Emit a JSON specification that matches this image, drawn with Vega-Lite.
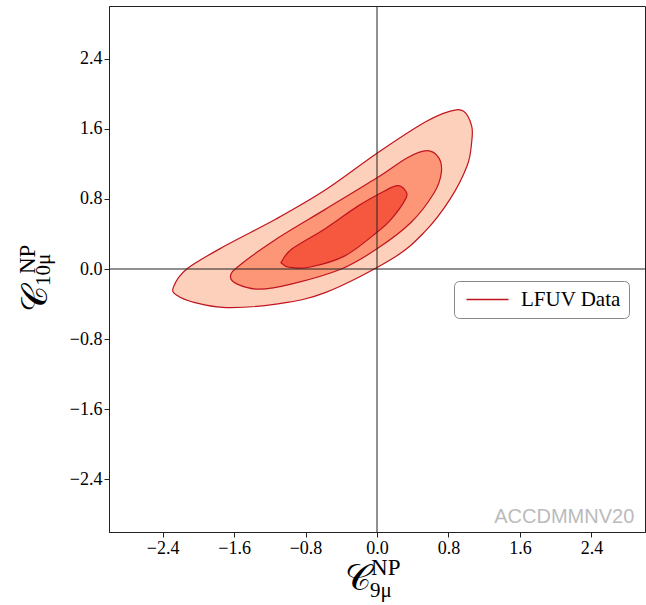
{
  "$schema": "https://vega.github.io/schema/vega-lite/v6.json",
  "width": 536,
  "height": 526,
  "autosize": {"type": "none"},
  "padding": {"left": 109, "top": 6, "right": 1, "bottom": 73},
  "background": "white",
  "config": {
    "view": {"stroke": "#222", "strokeWidth": 1},
    "axis": {
      "grid": false,
      "domainColor": "#222",
      "tickColor": "#222",
      "tickSize": 5,
      "labelFont": "Liberation Serif",
      "labelFontSize": 18,
      "labelColor": "black",
      "labelPadding": 2,
      "format": ".1f",
      "title": null
    },
    "legend": {
      "orient": "none",
      "legendX": 345,
      "legendY": 275,
      "title": null,
      "symbolType": "M-3,0H3",
      "symbolSize": 196,
      "symbolStrokeWidth": 1.5,
      "symbolOffset": 15,
      "labelFont": "Liberation Serif",
      "labelFontSize": 21,
      "labelColor": "black",
      "labelOffset": 23,
      "labelLimit": 0,
      "padding": 8,
      "strokeColor": "#888",
      "fillColor": "white",
      "cornerRadius": 5
    }
  },
  "datasets": {
    "contours": [
      {"level": 1, "i": 0, "c9": -2.28, "c10": -0.21, "set": "LFUV Data"},
      {"level": 1, "i": 1, "c9": -2.13, "c10": 0.0, "set": "LFUV Data"},
      {"level": 1, "i": 2, "c9": -1.69, "c10": 0.27, "set": "LFUV Data"},
      {"level": 1, "i": 3, "c9": -1.13, "c10": 0.57, "set": "LFUV Data"},
      {"level": 1, "i": 4, "c9": -0.58, "c10": 0.90, "set": "LFUV Data"},
      {"level": 1, "i": 5, "c9": 0.0, "c10": 1.32, "set": "LFUV Data"},
      {"level": 1, "i": 6, "c9": 0.53, "c10": 1.67, "set": "LFUV Data"},
      {"level": 1, "i": 7, "c9": 0.82, "c10": 1.80, "set": "LFUV Data"},
      {"level": 1, "i": 8, "c9": 0.97, "c10": 1.80, "set": "LFUV Data"},
      {"level": 1, "i": 9, "c9": 1.06, "c10": 1.63, "set": "LFUV Data"},
      {"level": 1, "i": 10, "c9": 1.06, "c10": 1.45, "set": "LFUV Data"},
      {"level": 1, "i": 11, "c9": 1.01, "c10": 1.18, "set": "LFUV Data"},
      {"level": 1, "i": 12, "c9": 0.82, "c10": 0.80, "set": "LFUV Data"},
      {"level": 1, "i": 13, "c9": 0.53, "c10": 0.42, "set": "LFUV Data"},
      {"level": 1, "i": 14, "c9": 0.16, "c10": 0.11, "set": "LFUV Data"},
      {"level": 1, "i": 15, "c9": -0.58, "c10": -0.27, "set": "LFUV Data"},
      {"level": 1, "i": 16, "c9": -1.13, "c10": -0.40, "set": "LFUV Data"},
      {"level": 1, "i": 17, "c9": -1.69, "c10": -0.44, "set": "LFUV Data"},
      {"level": 1, "i": 18, "c9": -2.05, "c10": -0.38, "set": "LFUV Data"},
      {"level": 1, "i": 19, "c9": -2.24, "c10": -0.30, "set": "LFUV Data"},

      {"level": 2, "i": 0, "c9": -1.64, "c10": -0.08, "set": "LFUV Data"},
      {"level": 2, "i": 1, "c9": -1.54, "c10": 0.04, "set": "LFUV Data"},
      {"level": 2, "i": 2, "c9": -1.13, "c10": 0.34, "set": "LFUV Data"},
      {"level": 2, "i": 3, "c9": -0.58, "c10": 0.68, "set": "LFUV Data"},
      {"level": 2, "i": 4, "c9": 0.0, "c10": 1.04, "set": "LFUV Data"},
      {"level": 2, "i": 5, "c9": 0.34, "c10": 1.27, "set": "LFUV Data"},
      {"level": 2, "i": 6, "c9": 0.56, "c10": 1.35, "set": "LFUV Data"},
      {"level": 2, "i": 7, "c9": 0.69, "c10": 1.27, "set": "LFUV Data"},
      {"level": 2, "i": 8, "c9": 0.72, "c10": 1.10, "set": "LFUV Data"},
      {"level": 2, "i": 9, "c9": 0.64, "c10": 0.87, "set": "LFUV Data"},
      {"level": 2, "i": 10, "c9": 0.38, "c10": 0.53, "set": "LFUV Data"},
      {"level": 2, "i": 11, "c9": 0.0, "c10": 0.23, "set": "LFUV Data"},
      {"level": 2, "i": 12, "c9": -0.40, "c10": 0.0, "set": "LFUV Data"},
      {"level": 2, "i": 13, "c9": -0.95, "c10": -0.17, "set": "LFUV Data"},
      {"level": 2, "i": 14, "c9": -1.32, "c10": -0.23, "set": "LFUV Data"},
      {"level": 2, "i": 15, "c9": -1.57, "c10": -0.17, "set": "LFUV Data"},

      {"level": 3, "i": 0, "c9": -1.065, "c10": 0.09, "set": "LFUV Data"},
      {"level": 3, "i": 1, "c9": -0.95, "c10": 0.23, "set": "LFUV Data"},
      {"level": 3, "i": 2, "c9": -0.58, "c10": 0.46, "set": "LFUV Data"},
      {"level": 3, "i": 3, "c9": -0.21, "c10": 0.72, "set": "LFUV Data"},
      {"level": 3, "i": 4, "c9": 0.085, "c10": 0.89, "set": "LFUV Data"},
      {"level": 3, "i": 5, "c9": 0.23, "c10": 0.95, "set": "LFUV Data"},
      {"level": 3, "i": 6, "c9": 0.32, "c10": 0.89, "set": "LFUV Data"},
      {"level": 3, "i": 7, "c9": 0.32, "c10": 0.80, "set": "LFUV Data"},
      {"level": 3, "i": 8, "c9": 0.16, "c10": 0.57, "set": "LFUV Data"},
      {"level": 3, "i": 9, "c9": 0.0, "c10": 0.42, "set": "LFUV Data"},
      {"level": 3, "i": 10, "c9": -0.36, "c10": 0.15, "set": "LFUV Data"},
      {"level": 3, "i": 11, "c9": -0.76, "c10": 0.02, "set": "LFUV Data"},
      {"level": 3, "i": 12, "c9": -0.985, "c10": 0.02, "set": "LFUV Data"},
      {"level": 3, "i": 13, "c9": -1.06, "c10": 0.06, "set": "LFUV Data"}
    ]
  },
  "layer": [
    {
      "data": {"name": "contours"},
      "transform": [{"filter": "datum.level == 1"}],
      "mark": {"type": "line", "interpolate": "cardinal-closed", "fill": "#fdd0bc", "strokeWidth": 1.2},
      "encoding": {
        "x": {
          "field": "c9",
          "type": "quantitative",
          "scale": {"domain": [-3, 3], "nice": false, "zero": false},
          "axis": {"values": [-2.4, -1.6, -0.8, 0, 0.8, 1.6, 2.4]}
        },
        "y": {
          "field": "c10",
          "type": "quantitative",
          "scale": {"domain": [-3, 3], "nice": false, "zero": false},
          "axis": {"values": [-2.4, -1.6, -0.8, 0, 0.8, 1.6, 2.4]}
        },
        "order": {"field": "i"},
        "stroke": {"field": "set", "type": "nominal", "scale": {"range": ["#c0141e"]}}
      }
    },
    {
      "data": {"name": "contours"},
      "transform": [{"filter": "datum.level == 2"}],
      "mark": {"type": "line", "interpolate": "cardinal-closed", "fill": "#fc9676", "strokeWidth": 1.2},
      "encoding": {
        "x": {"field": "c9", "type": "quantitative"},
        "y": {"field": "c10", "type": "quantitative"},
        "order": {"field": "i"},
        "stroke": {"field": "set", "type": "nominal"}
      }
    },
    {
      "data": {"name": "contours"},
      "transform": [{"filter": "datum.level == 3"}],
      "mark": {"type": "line", "interpolate": "cardinal-closed", "fill": "#f5583f", "strokeWidth": 1.2},
      "encoding": {
        "x": {"field": "c9", "type": "quantitative"},
        "y": {"field": "c10", "type": "quantitative"},
        "order": {"field": "i"},
        "stroke": {"field": "set", "type": "nominal"}
      }
    },
    {
      "data": {"values": [{}]},
      "mark": {"type": "rule", "color": "#222", "strokeWidth": 1},
      "encoding": {"x": {"datum": 0}}
    },
    {
      "data": {"values": [{}]},
      "mark": {"type": "rule", "color": "#222", "strokeWidth": 1},
      "encoding": {"y": {"datum": 0}}
    },
    {
      "data": {"values": [{}]},
      "mark": {"type": "text", "text": "ACCDMMNV20", "font": "Liberation Sans", "fontSize": 20, "color": "#bbbbbb", "align": "right", "baseline": "alphabetic"},
      "encoding": {"x": {"datum": 2.88}, "y": {"datum": -2.9}}
    },
    {
      "data": {"values": [{}]},
      "mark": {"type": "text", "text": "𝒞", "font": "DejaVu Serif", "fontSize": 36, "color": "black", "align": "left", "baseline": "alphabetic"},
      "encoding": {"x": {"datum": -0.36}, "y": {"datum": -3.663}}
    },
    {
      "data": {"values": [{}]},
      "mark": {"type": "text", "text": "NP", "font": "Liberation Serif", "fontSize": 23, "color": "black", "align": "left", "baseline": "alphabetic"},
      "encoding": {"x": {"datum": -0.066}, "y": {"datum": -3.49}}
    },
    {
      "data": {"values": [{}]},
      "mark": {"type": "text", "text": "9μ", "font": "Liberation Serif", "fontSize": 21, "color": "black", "align": "left", "baseline": "alphabetic"},
      "encoding": {"x": {"datum": -0.077}, "y": {"datum": -3.745}}
    },
    {
      "data": {"values": [{}]},
      "mark": {"type": "text", "text": "𝒞", "font": "DejaVu Serif", "fontSize": 36, "color": "black", "align": "left", "baseline": "alphabetic", "angle": 270},
      "encoding": {"x": {"datum": -3.695}, "y": {"datum": -0.489}}
    },
    {
      "data": {"values": [{}]},
      "mark": {"type": "text", "text": "NP", "font": "Liberation Serif", "fontSize": 23, "color": "black", "align": "left", "baseline": "alphabetic", "angle": 270},
      "encoding": {"x": {"datum": -3.827}, "y": {"datum": -0.057}}
    },
    {
      "data": {"values": [{}]},
      "mark": {"type": "text", "text": "10μ", "font": "Liberation Serif", "fontSize": 21, "color": "black", "align": "left", "baseline": "alphabetic", "angle": 270},
      "encoding": {"x": {"datum": -3.66}, "y": {"datum": -0.193}}
    }
  ]
}
